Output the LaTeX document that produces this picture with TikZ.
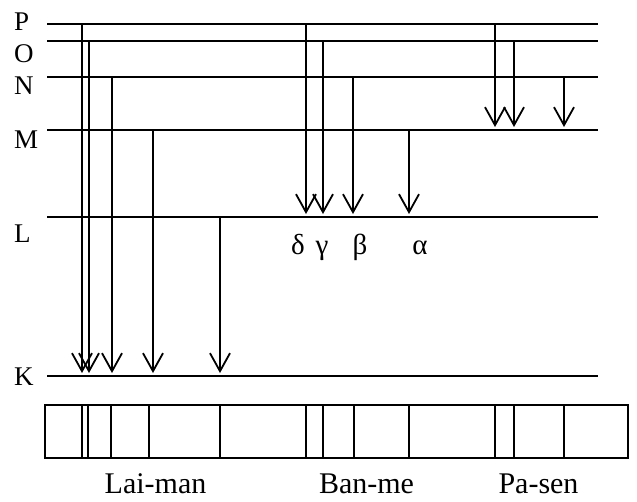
\documentclass[tikz,border=0pt]{standalone}
\usepackage{fontspec}
\setmainfont{Liberation Serif}
\usetikzlibrary{arrows.meta}

\begin{document}
\begin{tikzpicture}[x=1pt,y=-1pt,
  levelline/.style={line width=1.8pt},
  jump/.style={line width=1.8pt,
    -{Straight Barb[length=18pt,width=20pt]}, shorten >=3pt},
  levelname/.style={anchor=base west, inner sep=0pt,
    font=\fontsize{27}{30}\selectfont},
  greek/.style={anchor=base, inner sep=0pt,
    font=\fontsize{29}{32}\selectfont},
  seriesname/.style={anchor=base, inner sep=0pt,
    font=\fontsize{30}{34}\selectfont},
  spectrum/.style={line width=1.4pt}]

\useasboundingbox (0,0) rectangle (637,501);

% energy levels: name / height
\foreach \n/\y in {P/24,O/41,N/77,M/130,L/217,K/376}{
  \coordinate (\n-w) at (47,\y);
  \coordinate (\n-e) at (598,\y);
  \draw[levelline] (\n-w) -- (\n-e);
}
\node[levelname] (lblP) at (14,30)  {P};
\node[levelname] (lblO) at (14,62)  {O};
\node[levelname] (lblN) at (14,94)  {N};
\node[levelname] (lblM) at (14,148) {M};
\node[levelname] (lblL) at (14,242) {L};
\node[levelname] (lblK) at (14,385) {K};

% transitions: id / x / upper level / lower level
\foreach \i/\x/\a/\b in {
    ly1/82/P/K, ly2/89/O/K, ly3/112/N/K, ly4/153/M/K, ly5/220/L/K,
    ba1/306/P/L, ba2/323/O/L, ba3/353/N/L, ba4/409/M/L,
    pa1/495/P/M, pa2/514/O/M, pa3/564/N/M}{
  \path (\a-w) -- (\a-e) coordinate[pos={(\x-47)/551}] (\i-top);
  \path (\b-w) -- (\b-e) coordinate[pos={(\x-47)/551}] (\i-bot);
  \draw[jump] (\i-top) -- (\i-bot);
}

% Balmer line names
\node[greek] (delta) at (298,254) {δ};
\node[greek] (gamma) at (322,254) {γ};
\node[greek] (beta)  at (360,254) {β};
\node[greek] (alpha) at (420,254) {α};

% spectrum strip
\coordinate (sp-nw) at (45,405);
\coordinate (sp-se) at (628,458);
\draw[spectrum] (sp-nw) rectangle (sp-se);
\foreach \x in {82,88,111,149,220,306,323,354,409,495,514,564}{
  \draw[spectrum] (\x,405) -- (\x,458);
}

\node[seriesname] (lyman)   at (155.5,493) {Lai-man};
\node[seriesname] (balmer)  at (366.5,493) {Ban-me};
\node[seriesname] (paschen) at (538.5,493) {Pa-sen};
\end{tikzpicture}
\end{document}
